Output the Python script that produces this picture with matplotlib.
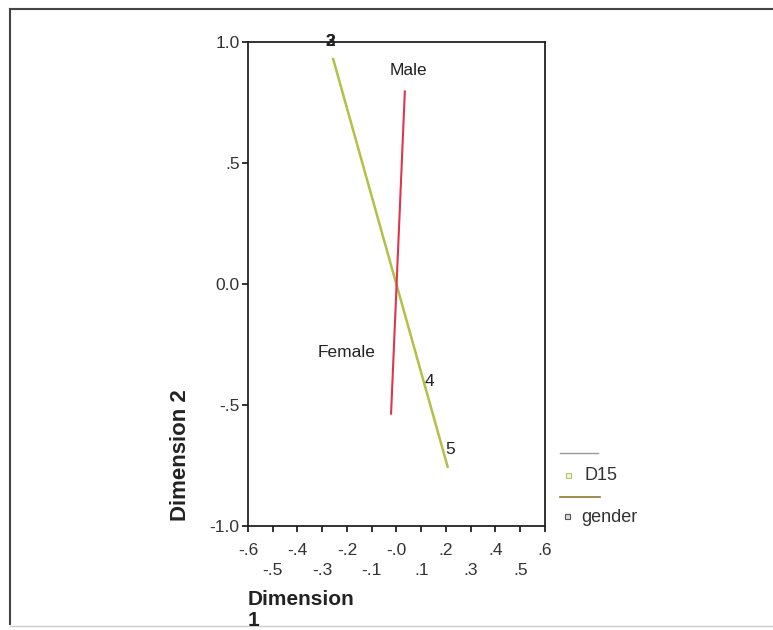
import matplotlib.pyplot as plt
from matplotlib.patches import Rectangle
from matplotlib.lines import Line2D

plt.rcParams['font.family'] = ['Liberation Sans', 'DejaVu Sans']

# D15 category vector and its category labels
d15_line_x = [-0.257, 0.208]
d15_line_y = [0.934, -0.760]
d15_cats = ['2', '3', '4', '5']
d15_x = [-0.268, -0.268, 0.135, 0.215]
d15_y = [1.000, 1.000, -0.405, -0.685]

# gender category vector and its category labels
gender_line_x = [0.034, -0.022]
gender_line_y = [0.800, -0.540]
gender_cats = ['Male', 'Female']
gender_x = [0.047, -0.200]
gender_y = [0.880, -0.285]

xticks = [-0.6, -0.5, -0.4, -0.3, -0.2, -0.1, 0.0, 0.1, 0.2, 0.3, 0.4, 0.5, 0.6]
xtick_labels = ['-.6', '-.5', '-.4', '-.3', '-.2', '-.1', '-.0', '.1', '.2', '.3', '.4', '.5', '.6']
yticks = [-1.0, -0.5, 0.0, 0.5, 1.0]
ytick_labels = ['-1.0', '-.5', '0.0', '.5', '1.0']

fig = plt.figure(figsize=(7.73, 6.3), dpi=100)
ax = fig.add_axes([0.3208, 0.1651, 0.3842, 0.7683])

ax.plot(d15_line_x, d15_line_y, color='#b3bf45', lw=1.8, solid_capstyle='butt')
ax.plot(gender_line_x, gender_line_y, color='#e0354e', lw=1.5, solid_capstyle='butt')

for lab, x, y in zip(d15_cats, d15_x, d15_y):
    ax.text(x, y, lab, ha='center', va='center', fontsize=12.5, color='#222222',
            fontweight='bold' if lab in ('2', '3') else 'normal')
for lab, x, y in zip(gender_cats, gender_x, gender_y):
    ax.text(x, y, lab, ha='center', va='center', fontsize=12.5, color='#222222')

ax.set_xlim(-0.6, 0.6)
ax.set_ylim(-1.0, 1.0)
for s in ax.spines.values():
    s.set_color('#222222')
    s.set_linewidth(1.3)

ax.set_xticks(xticks)
# alternate tick labels on two rows
ax.set_xticklabels([l if i % 2 == 0 else '\n' + l for i, l in enumerate(xtick_labels)],
                   linespacing=1.45)
ax.set_yticks(yticks)
ax.set_yticklabels(ytick_labels)
ax.tick_params(axis='both', direction='out', length=4, width=1.3, color='#222222',
               labelsize=12.5, labelcolor='#333333', pad=2)
ax.tick_params(axis='x', pad=8)

fig.text(248 / 773, 1 - 610 / 630, 'Dimension\n1', fontsize=15, fontweight='bold',
         ha='left', va='center', linespacing=1.15, color='#222222')
fig.text(181 / 773, 1 - 455 / 630, 'Dimension 2', fontsize=16, fontweight='bold',
         rotation=90, ha='center', va='center', color='#222222')

# legend block to the right of the plot
fig.add_artist(Line2D([560 / 773, 598 / 773], [1 - 453 / 630] * 2, color='#9a9a9a', lw=1.0))
fig.add_artist(Rectangle((566 / 773, 1 - 478 / 630), 5 / 773, 5 / 630,
                         facecolor='#f3f5d8', edgecolor='#b8bf70', lw=0.8))
fig.text(585 / 773, 1 - 476 / 630, 'D15', fontsize=13, va='center', color='#333333')
fig.add_artist(Line2D([560 / 773, 600 / 773], [1 - 497 / 630] * 2, color='#8a7a30', lw=1.2))
fig.add_artist(Rectangle((565 / 773, 1 - 519 / 630), 5 / 773, 5 / 630,
                         facecolor='#dddddd', edgecolor='#555555', lw=0.8))
fig.text(581 / 773, 1 - 518 / 630, 'gender', fontsize=13, va='center', color='#333333')

# outer frame
fig.add_artist(Line2D([10 / 773, 10 / 773], [1 - 624 / 630, 1 - 9 / 630], color='#444444', lw=1.5))
fig.add_artist(Line2D([10 / 773, 1.0], [1 - 9 / 630] * 2, color='#444444', lw=1.5))
fig.add_artist(Line2D([10 / 773, 1.0], [1 - 626 / 630] * 2, color='#cccccc', lw=1.0))

fig.savefig('out.png', dpi=100)
